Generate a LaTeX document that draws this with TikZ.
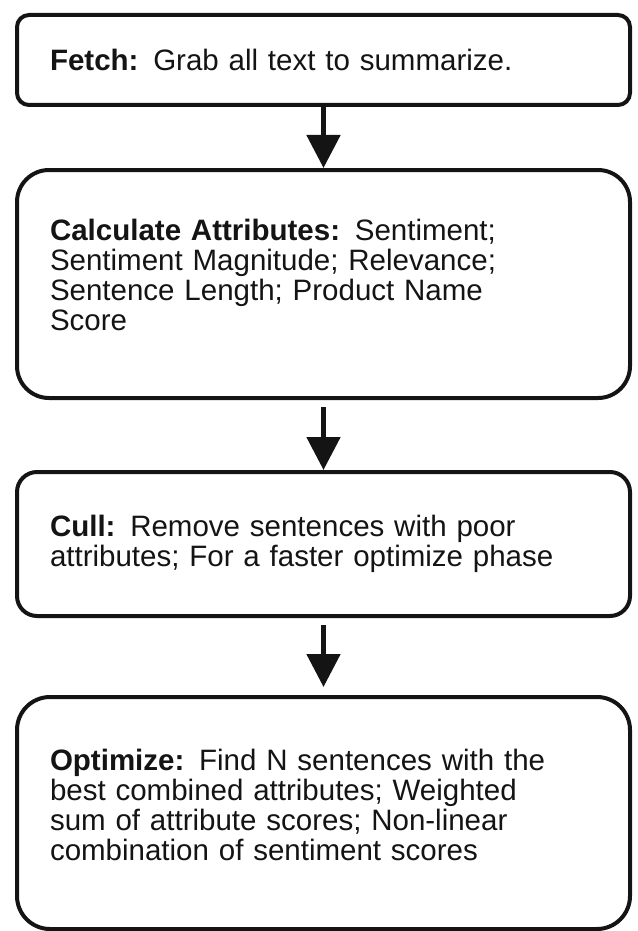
\documentclass[tikz,border=0pt]{standalone}
\usepackage{fontspec}
\setmainfont{Liberation Sans}
\usetikzlibrary{arrows.meta, positioning}
\tikzset{
  stage/.style={
    rectangle, rounded corners=#1,
    draw=black!92, fill=white, text=black!92,
    line width=4pt, minimum width=613pt,
    text width=547pt, align=left,
    inner xsep=33pt, inner ysep=0pt,
    font=\fontsize{29.5}{30}\selectfont
  },
  fa/.style={-{Triangle[width=33pt, length=33pt]}, line width=5pt, draw=black!92, fill=black!92},
}

\begin{document}
\begin{tikzpicture}

\useasboundingbox (0pt,0pt) rectangle (637pt,-931pt);

%% ── Pipeline stages (top to bottom) ─────────────────────────────────────────
\node[stage=12pt, minimum height=90pt]  (fetch) at (323.5pt, -60pt)
  {\textbf{Fetch:} Grab all text to summarize.};
\node[stage=32pt, minimum height=228pt, text depth=108pt] (calc) at (323.5pt,-284pt)
  {\textbf{Calculate Attributes:} Sentiment;\\
   Sentiment Magnitude; Relevance;\\
   Sentence Length; Product Name\\
   Score};
\node[stage=20pt, minimum height=144pt] (cull)  at (323.5pt,-544pt)
  {\textbf{Cull:} Remove sentences with poor\\
   attributes; For a faster optimize phase};
\node[stage=33pt, minimum height=232pt, text depth=106pt] (opt) at (323.5pt,-813pt)
  {\textbf{Optimize:} Find N sentences with the\\
   best combined attributes; Weighted\\
   sum of attribute scores; Non-linear\\
   combination of sentiment scores};

%% ── Flow arrows ──────────────────────────────────────────────────────────────
\draw[fa] (fetch.south) -- (calc.north);
\draw[fa, shorten <=7pt] (calc.south) -- (cull.north);
\draw[fa, shorten <=7pt, shorten >=8pt] (cull.south) -- (opt.north);

\end{tikzpicture}
\end{document}
